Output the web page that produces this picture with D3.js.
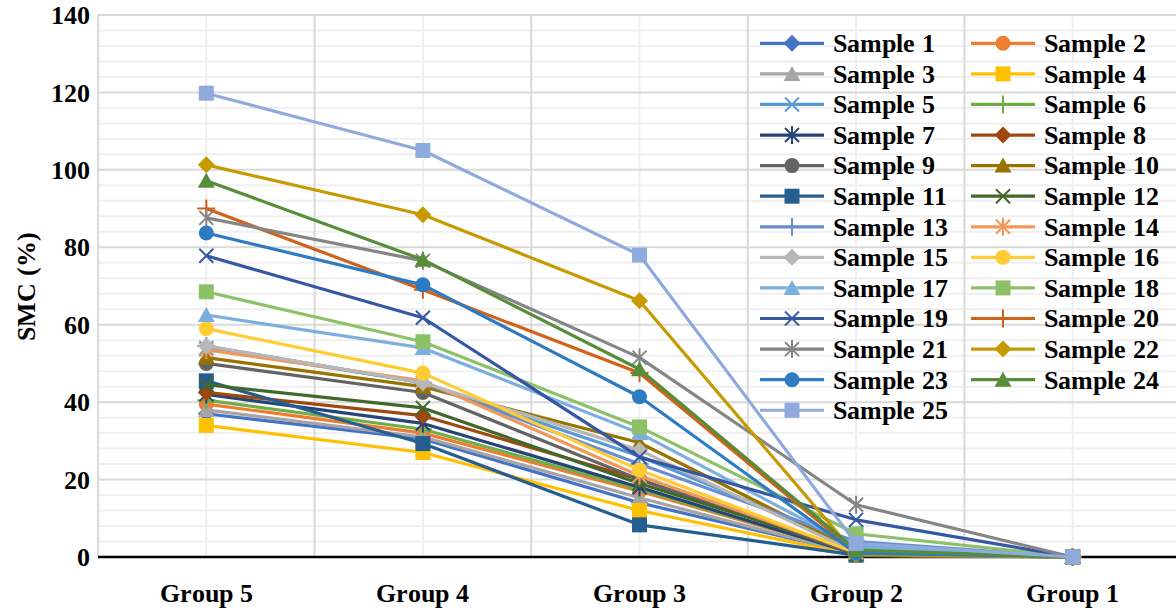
<!DOCTYPE html>
<html>
<head>
  <meta charset="utf-8">
  <title>SMC by group</title>
  <script src="https://d3js.org/d3.v7.min.js"></script>
  <style>
    @font-face {
      font-family: "ChartSerif";
      font-weight: bold;
      src: local("Liberation Serif Bold"), local("LiberationSerif-Bold"),
           local("DejaVu Serif Bold"), local("DejaVuSerif-Bold"),
           local("Times New Roman Bold"), local("TimesNewRomanPS-BoldMT");
    }
    body { margin: 0; background: #fff; }
    svg text { font-family: "ChartSerif", "Liberation Serif", "DejaVu Serif", serif; font-weight: bold; fill: #000; }
  </style>
</head>
<body>
  <div id="chart"></div>
  <script>
    // categories (x axis, left to right)
    var groups = ["Group 5", "Group 4", "Group 3", "Group 2", "Group 1"];

    var sampleNames = d3.range(1, 26).map(function(i) { return "Sample " + i; });

    // SMC (%) for each sample, in the order of groups above
    var s1  = [37.0, 30.5, 14.0, 0.8, 0];
    var s2  = [39.5, 32.0, 17.0, 1.0, 0];
    var s3  = [38.0, 31.0, 15.3, 0.6, 0];
    var s4  = [34.0, 27.0, 12.0, 0.4, 0];
    var s5  = [54.0, 45.0, 26.0, 3.0, 0];
    var s6  = [40.5, 33.0, 17.5, 1.0, 0];
    var s7  = [42.0, 34.5, 18.0, 0.8, 0];
    var s8  = [42.5, 36.5, 20.0, 1.2, 0];
    var s9  = [50.0, 42.5, 20.0, 0.8, 0];
    var s10 = [51.5, 44.0, 29.5, 1.5, 0];
    var s11 = [45.5, 29.3, 8.3, 0.5, 0];
    var s12 = [44.5, 38.5, 19.0, 1.5, 0];
    var s13 = [54.5, 45.0, 24.0, 4.0, 0];
    var s14 = [53.5, 45.5, 21.0, 1.2, 0];
    var s15 = [54.5, 45.0, 27.6, 1.2, 0];
    var s16 = [59.0, 47.5, 22.5, 1.0, 0];
    var s17 = [62.5, 54.0, 32.0, 2.5, 0];
    var s18 = [68.5, 55.6, 33.6, 6.0, 0];
    var s19 = [77.8, 61.8, 25.8, 9.6, 0];
    var s20 = [90.0, 69.0, 47.5, 1.2, 0];
    var s21 = [87.6, 76.5, 51.5, 13.5, 0];
    var s22 = [101.3, 88.4, 66.2, 0.6, 0];
    var s23 = [83.7, 70.3, 41.4, 1.0, 0];
    var s24 = [97.2, 76.8, 48.5, 1.8, 0];
    var s25 = [119.8, 105.0, 78.0, 3.5, 0];

    var allSeries = [s1, s2, s3, s4, s5, s6, s7, s8, s9, s10, s11, s12, s13,
                     s14, s15, s16, s17, s18, s19, s20, s21, s22, s23, s24, s25];

    var yTicks = [0, 20, 40, 60, 80, 100, 120, 140];

    // series colours and marker shapes (Excel default cycle)
    var colors = ["#4472C4", "#ED7D31", "#A5A5A5", "#FFC000", "#5B9BD5", "#70AD47",
                  "#264478", "#9E480E", "#636363", "#997300", "#255E91", "#43682B",
                  "#698ED0", "#F1975A", "#B7B7B7", "#FFCD33", "#7CAFDD", "#8CC168",
                  "#3458A4", "#D0621A", "#858585", "#C69A00", "#2F7BC2", "#578D38",
                  "#8FAADC"];
    var shapes = ["diamond", "circle", "triangle", "square", "x", "plus", "star"];

    var W = 1176, H = 611;
    var margin = {top: 15, left: 98, bottom: 54};
    var plotW = 216.6 * groups.length;
    var plotH = H - margin.top - margin.bottom;

    var svg = d3.select("#chart").append("svg")
      .attr("width", W).attr("height", H);

    var x = d3.scaleBand().domain(groups).range([margin.left, margin.left + plotW]);
    var y = d3.scaleLinear().domain([0, 140]).range([margin.top + plotH, margin.top]);

    var grid = svg.append("g");
    // minor horizontal grid every 4
    grid.selectAll(".hmin").data(d3.range(0, 141, 4).filter(function(v) { return v % 20 != 0; }))
      .enter().append("line")
      .attr("x1", margin.left).attr("x2", margin.left + plotW)
      .attr("y1", function(d) { return y(d); }).attr("y2", function(d) { return y(d); })
      .attr("stroke", "#F0F0F0").attr("stroke-width", 2);
    // minor vertical grid at category centres
    grid.selectAll(".vmin").data(groups).enter().append("line")
      .attr("x1", function(d) { return x(d) + x.bandwidth() / 2; })
      .attr("x2", function(d) { return x(d) + x.bandwidth() / 2; })
      .attr("y1", y(140)).attr("y2", y(0))
      .attr("stroke", "#F0F0F0").attr("stroke-width", 2);
    // major horizontal grid
    grid.selectAll(".hmaj").data(yTicks).enter().append("line")
      .attr("x1", margin.left).attr("x2", margin.left + plotW)
      .attr("y1", function(d) { return y(d); }).attr("y2", function(d) { return y(d); })
      .attr("stroke", "#D9D9D9").attr("stroke-width", 2);
    // major vertical grid at category edges
    grid.selectAll(".vmaj").data(groups.concat(["end"])).enter().append("line")
      .attr("x1", function(d, i) { return margin.left + i * x.bandwidth(); })
      .attr("x2", function(d, i) { return margin.left + i * x.bandwidth(); })
      .attr("y1", y(140)).attr("y2", y(0))
      .attr("stroke", "#D9D9D9").attr("stroke-width", 2);

    // axis line
    svg.append("line")
      .attr("x1", margin.left).attr("x2", margin.left + plotW)
      .attr("y1", y(0)).attr("y2", y(0))
      .attr("stroke", "#000").attr("stroke-width", 2.5);

    // y tick labels
    svg.selectAll(".ylab").data(yTicks).enter().append("text")
      .attr("x", 90).attr("y", function(d) { return y(d); })
      .attr("dy", "0.35em")
      .attr("text-anchor", "end")
      .style("font-size", "26px")
      .text(function(d) { return d; });

    // x tick labels
    svg.selectAll(".xlab").data(groups).enter().append("text")
      .attr("x", function(d) { return x(d) + x.bandwidth() / 2; })
      .attr("y", y(0) + 45)
      .attr("text-anchor", "middle")
      .style("font-size", "26px")
      .text(function(d) { return d; });

    // axis title
    svg.append("text")
      .attr("transform", "translate(35," + (margin.top + plotH / 2) + ") rotate(-90)")
      .attr("text-anchor", "middle")
      .style("font-size", "26px")
      .text("SMC (%)");

    // marker drawing
    function drawMarker(g, shape, cx, cy, color) {
      var r = 7.5;
      if (shape == "diamond") {
        g.append("path")
          .attr("d", "M" + cx + "," + (cy - 8.5) + "L" + (cx + 8.5) + "," + cy +
                     "L" + cx + "," + (cy + 8.5) + "L" + (cx - 8.5) + "," + cy + "Z")
          .attr("fill", color);
      } else if (shape == "circle") {
        g.append("circle").attr("cx", cx).attr("cy", cy).attr("r", r).attr("fill", color);
      } else if (shape == "triangle") {
        g.append("path")
          .attr("d", "M" + cx + "," + (cy - 8) + "L" + (cx + 8.5) + "," + (cy + 7) +
                     "L" + (cx - 8.5) + "," + (cy + 7) + "Z")
          .attr("fill", color);
      } else if (shape == "square") {
        g.append("rect").attr("x", cx - r).attr("y", cy - r)
          .attr("width", 2 * r).attr("height", 2 * r).attr("fill", color);
      } else if (shape == "x") {
        g.append("path")
          .attr("d", "M" + (cx - 7) + "," + (cy - 7) + "L" + (cx + 7) + "," + (cy + 7) +
                     "M" + (cx + 7) + "," + (cy - 7) + "L" + (cx - 7) + "," + (cy + 7))
          .attr("stroke", color).attr("stroke-width", 2).attr("fill", "none");
      } else if (shape == "plus") {
        g.append("path")
          .attr("d", "M" + cx + "," + (cy - 9) + "L" + cx + "," + (cy + 9) +
                     "M" + (cx - 9) + "," + cy + "L" + (cx + 9) + "," + cy)
          .attr("stroke", color).attr("stroke-width", 2).attr("fill", "none");
      } else {
        g.append("path")
          .attr("d", "M" + (cx - 7) + "," + (cy - 7) + "L" + (cx + 7) + "," + (cy + 7) +
                     "M" + (cx + 7) + "," + (cy - 7) + "L" + (cx - 7) + "," + (cy + 7) +
                     "M" + cx + "," + (cy - 9) + "L" + cx + "," + (cy + 9))
          .attr("stroke", color).attr("stroke-width", 2).attr("fill", "none");
      }
    }

    var line = d3.line()
      .x(function(d, i) { return x(groups[i]) + x.bandwidth() / 2; })
      .y(function(d) { return y(d); });

    allSeries.forEach(function(vals, k) {
      var g = svg.append("g");
      g.append("path")
        .datum(vals)
        .attr("d", line)
        .attr("fill", "none")
        .attr("stroke", colors[k])
        .attr("stroke-width", 3.2)
        .attr("stroke-linejoin", "round");
      vals.forEach(function(v, i) {
        drawMarker(g, shapes[k % 7], x(groups[i]) + x.bandwidth() / 2, y(v), colors[k]);
      });
    });

    // legend, two columns
    var legend = svg.append("g");
    var rowStep = 30.58;
    sampleNames.forEach(function(name, k) {
      var col = k % 2, row = Math.floor(k / 2);
      var lx = 760 + col * 211, ly = 43.3 + row * rowStep;
      legend.append("line")
        .attr("x1", lx).attr("x2", lx + 64)
        .attr("y1", ly).attr("y2", ly)
        .attr("stroke", colors[k]).attr("stroke-width", 3.2);
      drawMarker(legend, shapes[k % 7], lx + 32, ly, colors[k]);
      legend.append("text")
        .attr("x", lx + 73).attr("y", ly)
        .attr("dy", "0.34em")
        .style("font-size", "26px")
        .text(name);
    });
  </script>
</body>
</html>
